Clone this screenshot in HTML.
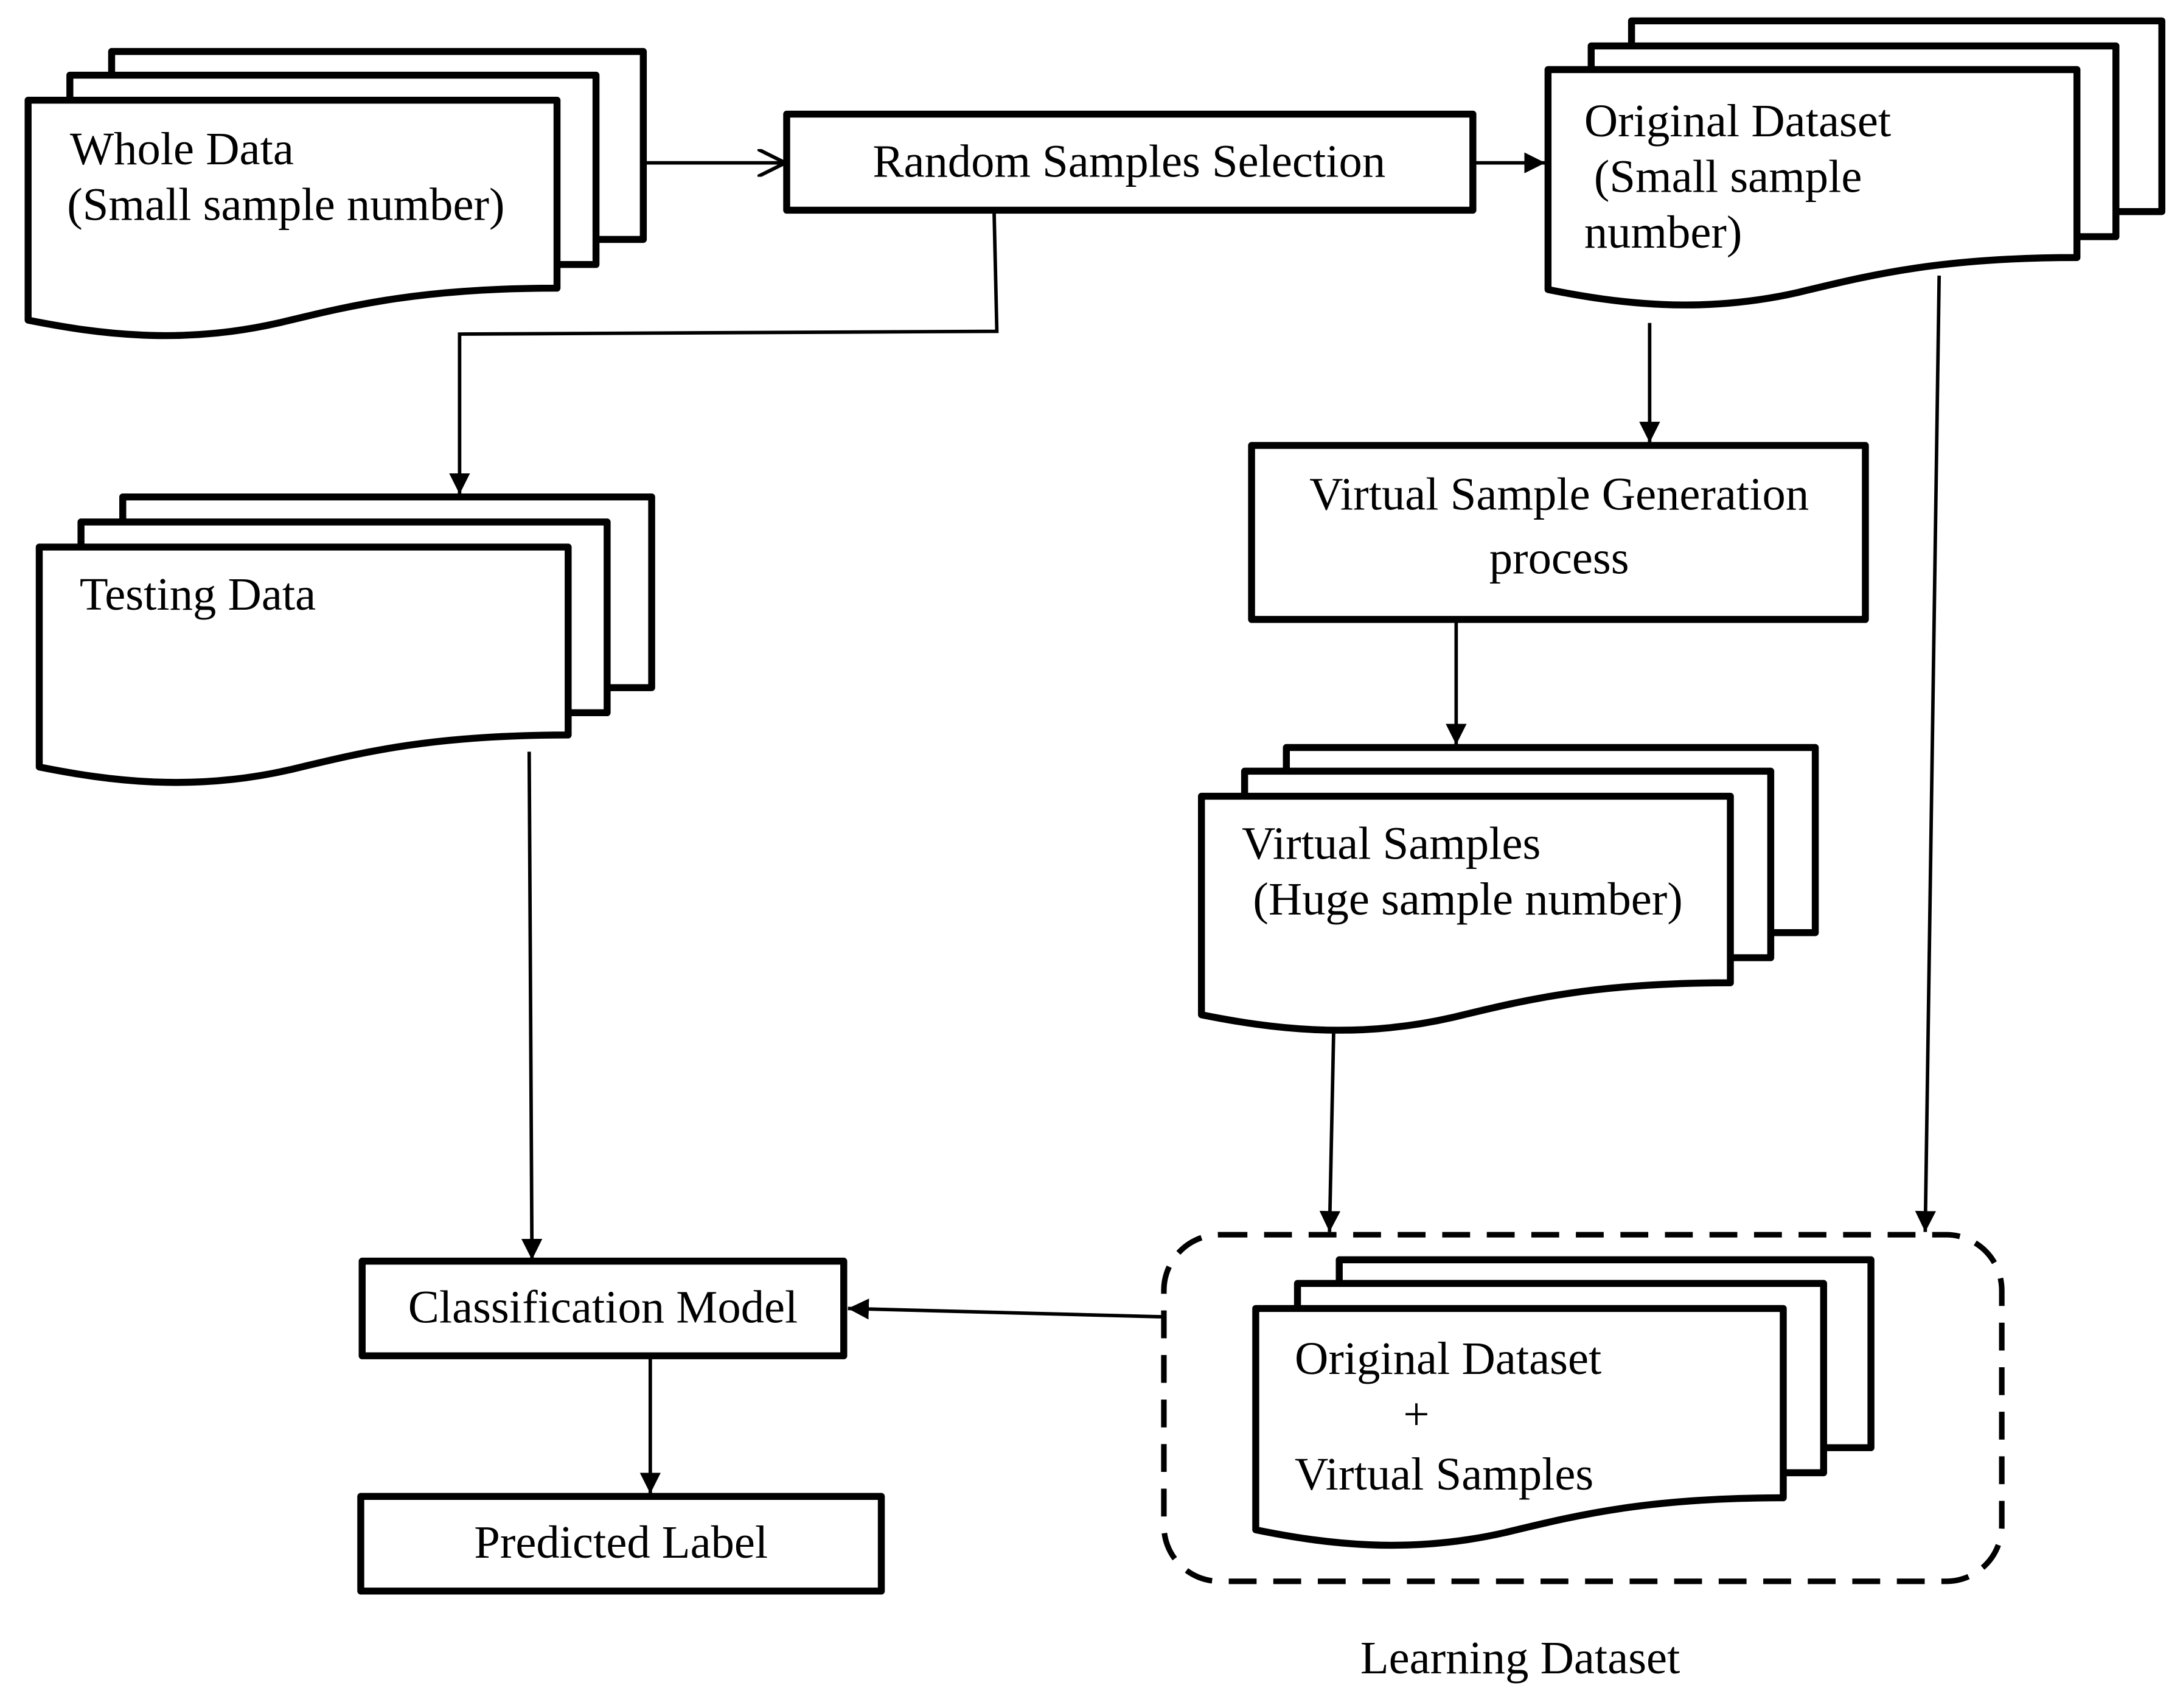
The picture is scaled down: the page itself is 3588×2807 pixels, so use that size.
<!DOCTYPE html>
<html><head><meta charset="utf-8"><style>html,body{margin:0;padding:0;background:#fff}svg{display:block}</style></head>
<body>
<svg width="3588" height="2807" viewBox="0 0 1568 1227" xmlns="http://www.w3.org/2000/svg" font-family="Liberation Serif, serif" font-size="33.5">
<defs>
<marker id="a" viewBox="0 0 10 10" refX="10" refY="5" markerWidth="6" markerHeight="6" orient="auto"><path d="M0,0 L10,5 L0,10 Z" fill="#000"/></marker>
<marker id="o" viewBox="0 0 10 10" refX="10" refY="5" markerWidth="8" markerHeight="8" orient="auto"><path d="M0,0 L10,5 L0,10" fill="none" stroke="#000" stroke-width="1.3"/></marker>
</defs>
<rect width="1568" height="1227" fill="#fff"/>
<g fill="#fff" stroke="#000" stroke-width="5" stroke-linejoin="round">
<rect x="80" y="37" width="382" height="135"/>
<rect x="50" y="54" width="378" height="136"/>
<path d="M20,72 H400 V207 C300,207 250,220 200,232 C130,248 70,240 20,230 Z"/>
<rect x="1172" y="15" width="381" height="137"/>
<rect x="1143" y="33" width="377" height="137"/>
<path d="M1112,50 H1492 V185 C1392,185 1342,198 1292,210 C1222,226 1162,218 1112,208 Z"/>
<rect x="88" y="357" width="380" height="137"/>
<rect x="58" y="375" width="378" height="137"/>
<path d="M28,393 H408 V528 C308,528 258,541 208,553 C138,569 78,561 28,551 Z"/>
<rect x="924" y="537" width="380" height="133"/>
<rect x="894" y="554" width="378" height="134"/>
<path d="M863,572 H1243 V706 C1143,706 1093,719 1043,731 C973,747 913,739 863,729 Z"/>
<rect x="962" y="905" width="382" height="135"/>
<rect x="932" y="922" width="378" height="136"/>
<path d="M902,940 H1281 V1076 C1181,1076 1131,1089 1081,1101 C1011,1117 951,1109 902,1099 Z"/>
<rect x="565" y="82" width="493" height="69"/>
<rect x="899" y="320" width="441" height="125"/>
<rect x="260" y="906" width="346" height="68"/>
<rect x="259" y="1075" width="374" height="68"/>
</g>
<rect x="836" y="887" width="602" height="249" rx="40" fill="none" stroke="#000" stroke-width="4" stroke-dasharray="20,12"/>
<g stroke="#000" stroke-width="2.5" fill="none">
<line x1="462" y1="117" x2="564" y2="117" marker-end="url(#o)"/>
<line x1="1058" y1="117" x2="1110" y2="117" marker-end="url(#a)"/>
<polyline points="714,151 716,238 330,240 330,355" marker-end="url(#a)"/>
<line x1="380" y1="540" x2="382" y2="905" marker-end="url(#a)"/>
<line x1="1185" y1="232" x2="1185" y2="318" marker-end="url(#a)"/>
<line x1="1046" y1="445" x2="1046" y2="535" marker-end="url(#a)"/>
<line x1="958" y1="740" x2="955" y2="885" marker-end="url(#a)"/>
<line x1="1393" y1="198" x2="1383" y2="885" marker-end="url(#a)"/>
<line x1="836" y1="946" x2="609" y2="940" marker-end="url(#a)"/>
<line x1="467" y1="974" x2="467" y2="1073" marker-end="url(#a)"/>
</g>
<g fill="#000">
<text x="50" y="118">Whole Data</text>
<text x="48" y="158">(Small sample number)</text>
<text x="811" y="127" text-anchor="middle">Random Samples Selection</text>
<text x="1138" y="98">Original Dataset</text>
<text x="1145" y="138">(Small sample</text>
<text x="1138" y="178">number)</text>
<text x="57" y="438">Testing Data</text>
<text x="1120" y="366" text-anchor="middle">Virtual Sample Generation</text>
<text x="1120" y="412" text-anchor="middle">process</text>
<text x="892" y="617">Virtual Samples</text>
<text x="900" y="657">(Huge sample number)</text>
<text x="930" y="987">Original Dataset</text>
<text x="1008" y="1027">+</text>
<text x="930" y="1070">Virtual Samples</text>
<text x="433" y="950" text-anchor="middle">Classification Model</text>
<text x="446" y="1119" text-anchor="middle">Predicted Label</text>
<text x="1092" y="1202" text-anchor="middle">Learning Dataset</text>
</g>
</svg>
</body></html>
